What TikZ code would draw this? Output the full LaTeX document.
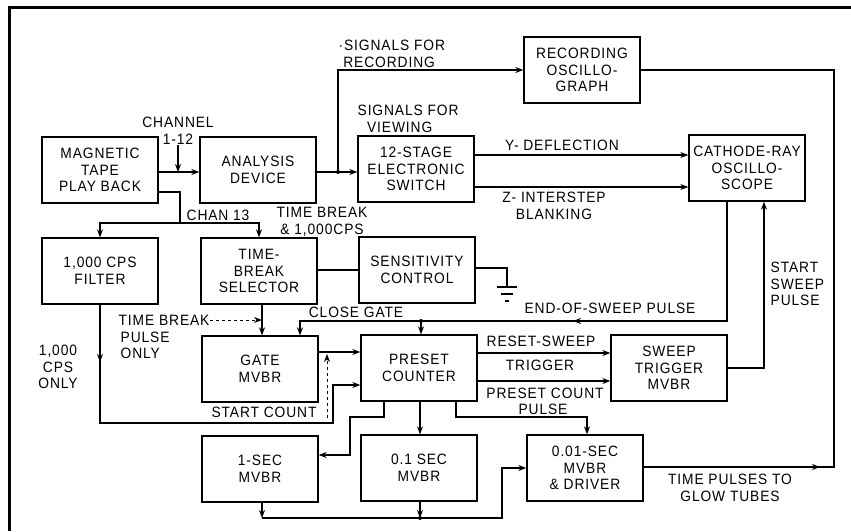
\documentclass[tikz,border=0pt]{standalone}
\usepackage{fontspec}
\setmainfont{Liberation Sans}[FakeStretch=0.92, LetterSpace=6]
\usepackage{tikz}
\usetikzlibrary{arrows.meta}

\begin{document}
\begin{tikzpicture}[x=1pt, y=-1pt, line width=1.3pt,
    >={Stealth[length=8pt,width=6pt]},
    blk/.style={draw, rectangle, minimum width=116pt, minimum height=66pt, inner sep=0pt, align=center},
    lbl/.style={inner sep=0pt, align=center}]
\useasboundingbox (0,0) rectangle (851,531);
\fontsize{15}{16.5}\selectfont
% frame
\draw[line width=3pt] (9,531) -- (9,7) -- (851,7);

% blocks
\node [blk] (tape) at (100,170) {MAGNETIC\\TAPE\\PLAY BACK};
\node [blk] (analysis) at (258,170) {ANALYSIS\\DEVICE};
\node [blk] (switch) at (416,169) {12-STAGE\\ELECTRONIC\\SWITCH};
\node [blk] (record) at (582,70) {RECORDING\\OSCILLO-\\GRAPH};
\node [blk] (crt) at (747,168) {CATHODE-RAY\\OSCILLO-\\SCOPE};
\node [blk] (filter) at (100,271) {1,000 CPS\\FILTER};
\node [blk] (tbsel) at (259,271) {TIME-\\BREAK\\SELECTOR};
\node [blk] (sens) at (417,270) {SENSITIVITY\\CONTROL};
\node [blk] (gate) at (260,369) {GATE\\MVBR};
\node [blk] (preset) at (419,368) {PRESET\\COUNTER};
\node [blk] (sweep) at (669,368) {SWEEP\\TRIGGER\\MVBR};
\node [blk] (onesec) at (260,469) {1-SEC\\MVBR};
\node [blk] (tenth) at (419,468) {0.1 SEC\\MVBR};
\node [blk] (hundredth) at (585,468) {0.01-SEC\\MVBR\\\& DRIVER};

% labels
\node [lbl] (chan) at (178,131) {CHANNEL\\1-12};
\node [lbl, anchor=west] (chan13) at (186,215) {CHAN 13};
\node [lbl] (tbcps) at (322,222) {TIME BREAK\\\& 1,000CPS};
\node [lbl, anchor=west, align=left] (sigrec) at (338,54) {·SIGNALS FOR\\\ RECORDING};
\node [lbl, anchor=west, align=left] (sigview) at (357,119) {SIGNALS FOR\\\ \ VIEWING};
\node [lbl] (ydef) at (562,145) {Y- DEFLECTION};
\node [lbl] (zblank) at (554,206) {Z- INTERSTEP\\BLANKING};
\node [lbl] (eosp) at (610,308) {END-OF-SWEEP PULSE};
\node [lbl] (clgate) at (356,312) {CLOSE GATE};
\node [lbl, anchor=west, align=left] (ssp) at (770,284) {START\\SWEEP\\PULSE};
\node [lbl, anchor=west] (tbl) at (118,320) {TIME BREAK};
\node [lbl, anchor=north west, align=left] (tbpo) at (120,331) {PULSE\\ONLY};
\node [lbl] (cpsonly) at (58,367) {1,000\\CPS\\ONLY};
\node [lbl] (stcount) at (264,412) {START COUNT};
\node [lbl] (rsweep) at (541,341) {RESET-SWEEP};
\node [lbl] (trig) at (540,365) {TRIGGER};
\node [lbl] (pcount) at (545,393) {PRESET COUNT};
\node [lbl] (pcpulse) at (543,409) {PULSE};
\node [lbl] (glow) at (730,488) {TIME PULSES TO\\GLOW TUBES};

% junctions
\coordinate (c13) at (180,223);
\coordinate (sig) at (338,172);
\coordinate (eos) at (727,321);
\coordinate (cg) at (300,321);
\coordinate (pc) at (421,321);
\coordinate (gnd) at (507,287);
\coordinate (bus) at (420,518);

% connectors
\draw[->] (tape.east |- 0,172) -- (analysis.west |- 0,172);
\draw[->] (chan.south) -- (chan.south |- 0,172);
\draw (tape.east |- 0,192) -| (c13);
\draw[->] (c13) -| (filter.north);
\draw[->] (c13) -| (tbsel.north);
\draw[->] (analysis.east |- 0,172) -- (switch.west |- 0,172);
\fill (sig) circle (2pt);
\draw[->] (sig) |- (record.west);
\draw[->] (switch.east |- 0,155) -- (crt.west |- 0,155);
\draw[->] (switch.east |- 0,187) -- (crt.west |- 0,187);
\draw[->] (727,0 |- crt.south) -- (eos) -- (573,321);
\draw[->] (575,321) -- (cg) -- (cg |- gate.north);
\fill (pc) circle (2pt);
\draw[->] (pc) -- (pc |- preset.north);
\draw[->] (sweep.east) -| (764,0 |- crt.south);
\draw (tbsel.east |- 0,270) -- (sens.west |- 0,270);
\draw (sens.east |- 0,268) -| (gnd);
\draw ([xshift=-10pt]gnd) -- ([xshift=10pt]gnd);
\draw ([xshift=-6pt,yshift=-7pt]gnd) -- ([xshift=6pt,yshift=-7pt]gnd);
\draw ([xshift=-2pt,yshift=-14pt]gnd) -- ([xshift=2pt,yshift=-14pt]gnd);
\draw[->] (262,0 |- tbsel.south) -- (262,0 |- gate.north);
\draw[->, dashed, line width=0.9pt] (tbl.east) -- (262,0 |- tbl.east);
\draw[->] (filter.south) -- (filter.south |- 0,362);
\draw[->] (filter.south |- 0,360) |- (333,423) |- (preset.west |- 0,385);
\draw[->] (gate.east |- 0,352) -- (preset.west |- 0,352);
\draw[->, dashed, line width=0.9pt] (327,0 |- stcount.south) -- (327,354);
\draw[->] (preset.east |- 0,353) -- (sweep.west |- 0,353);
\draw[->] (preset.east |- 0,381) -- (sweep.west |- 0,381);
\draw[->] (384,0 |- preset.south) |- (350,417) |- (onesec.east |- 0,455);
\draw[->] (420,0 |- preset.south) -- (420,0 |- tenth.north);
\draw[->] (456,0 |- preset.south) |- (587,417) -- (587,0 |- hundredth.north);
\draw[->] (262,0 |- onesec.south) -- (262,518);
\draw[->] (tenth.south -| bus) -- (bus);
\fill (bus) circle (2pt);
\draw[->] (262,518) -- (502,518) |- (hundredth.west |- 0,468);
\draw[->] (hundredth.east |- 0,467) -- (820,467);
\draw (818,467) -- (834,467) |- (record.east);
\end{tikzpicture}
\end{document}
